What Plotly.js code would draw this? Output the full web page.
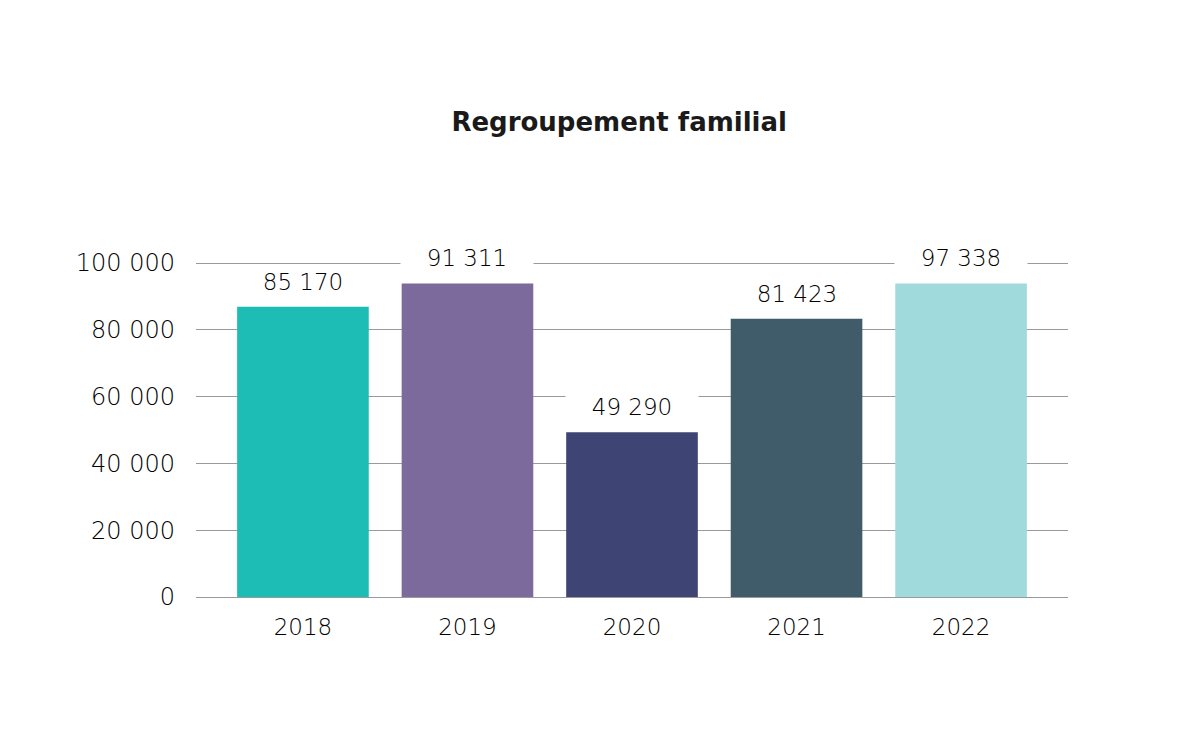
<!DOCTYPE html>
<html>
<head>
<meta charset="utf-8">
<script src="https://cdn.plot.ly/plotly-3.0.1.min.js"></script>
<style>html,body{margin:0;padding:0;background:#fff;}#chart{width:1200px;height:750px;}</style>
</head>
<body>
<div id="chart"></div>
<script>
const years = ["2018", "2019", "2020", "2021", "2022"];
const barValues = [86900, 93900, 49300, 83300, 93900];
const labelTexts = ["85 170", "91 311", "49 290", "81 423", "97 338"];
const barColors = ["#1DBDB6", "#7D6A9C", "#3E4473", "#405B6A", "#A0DADD"];
const yTicks = [0, 20000, 40000, 60000, 80000, 100000];

const NUMFONT = "DejaVu Sans";
const TITLEFONT = "DejaVu Sans";

const trace = {
  type: "bar",
  x: years,
  y: barValues,
  marker: { color: barColors, line: { width: 0 } },
  width: 0.8,
  hoverinfo: "skip"
};

const annotations = labelTexts.map((t, i) => ({
  x: i,
  y: barValues[i],
  xref: "x",
  yref: "y",
  text: t,
  showarrow: false,
  xanchor: "center",
  yanchor: "middle",
  yshift: 25,
  width: 130,
  bgcolor: "#ffffff",
  font: { family: NUMFONT, size: 23, color: "#000000", weight: 200 }
}));

const layout = {
  width: 1200,
  height: 750,
  paper_bgcolor: "#ffffff",
  plot_bgcolor: "#ffffff",
  separators: ", ",
  margin: { l: 196, r: 132, t: 260, b: 153 },
  title: {
    text: "<b>Regroupement familial</b>",
    x: 0.516,
    xanchor: "center",
    y: 0.838,
    yanchor: "middle",
    font: { family: TITLEFONT, size: 26, color: "#1a1a1a" }
  },
  showlegend: false,
  xaxis: {
    type: "category",
    range: [-0.65, 4.65],
    showgrid: false,
    showline: false,
    zeroline: false,
    ticks: "",
    tickfont: { family: NUMFONT, size: 23, color: "#000000", weight: 200 },
    ticklabelstandoff: 14
  },
  yaxis: {
    range: [0, 100900],
    tickvals: yTicks,
    tickformat: ",d",
    showgrid: true,
    gridcolor: "#9a9a9a",
    gridwidth: 1,
    zeroline: true,
    zerolinecolor: "#9a9a9a",
    zerolinewidth: 1,
    showline: false,
    ticks: "",
    ticklabelstandoff: 20,
    tickfont: { family: NUMFONT, size: 24, color: "#000000", weight: 200 }
  },
  annotations: annotations
};

Plotly.newPlot("chart", [trace], layout, { displayModeBar: false });
</script>
</body>
</html>
